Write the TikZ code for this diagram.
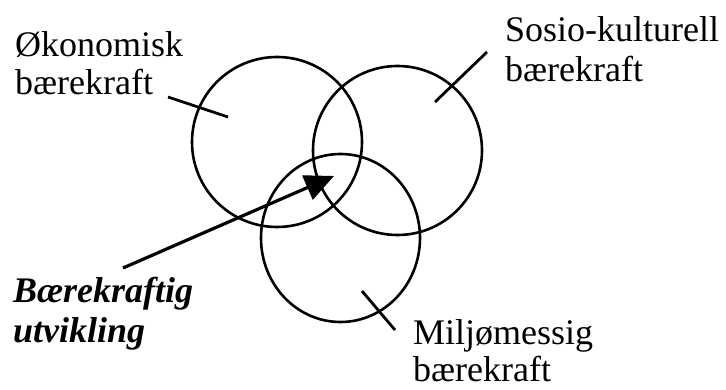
\documentclass[tikz,border=0pt]{standalone}
\usepackage{fontspec}
\setmainfont{Liberation Serif}
\usetikzlibrary{arrows.meta,shapes.geometric}
\begin{document}
\begin{tikzpicture}[x=1pt,y=-1pt,
  ring/.style={draw, line width=2.6pt, inner sep=0pt},
  lbl/.style={font=\fontsize{36}{38}\selectfont, align=left, anchor=base west, inner sep=0pt},
  tickline/.style={line width=2.8pt},
  pointer/.style={line width=3.2pt, -{Triangle[length=29pt,width=26pt]}}]
\useasboundingbox (0,0) rectangle (726,390);
% circles
\node[ring, circle, minimum size=170pt] (oek) at (277,142) {};
\node[ring, circle, minimum size=169pt] (sos) at (397.5,150.5) {};
\node[ring, ellipse, minimum width=159pt, minimum height=168pt] (mil) at (340.5,238) {};
% labels (anchor = baseline of the last line)
\node[lbl] (toek) at (15,95) {Økonomisk\\bærekraft};
\node[lbl, font=\fontsize{36}{40}\selectfont] (tsos) at (505,82) {Sosio-kulturell\\bærekraft};
\node[lbl, font=\fontsize{36}{36}\selectfont] (tmil) at (413,381) {Miljømessig\\bærekraft};
\node[lbl, font=\fontsize{36}{40}\selectfont\bfseries\itshape] (tbu) at (13,342) {Bærekraftig\\utvikling};
% tick lines
\coordinate (a1) at (168,97);  \coordinate (a2) at (228,117);
\coordinate (b1) at (435,102); \coordinate (b2) at (487,52);
\coordinate (c1) at (362,291); \coordinate (c2) at (395,330);
\draw[tickline] (a1) -- (a2);
\draw[tickline] (b1) -- (b2);
\draw[tickline] (c1) -- (c2);
% arrow
\coordinate (d1) at (123,268); \coordinate (d2) at (334,176);
\draw[pointer] (d1) -- (d2);
\end{tikzpicture}
\end{document}
